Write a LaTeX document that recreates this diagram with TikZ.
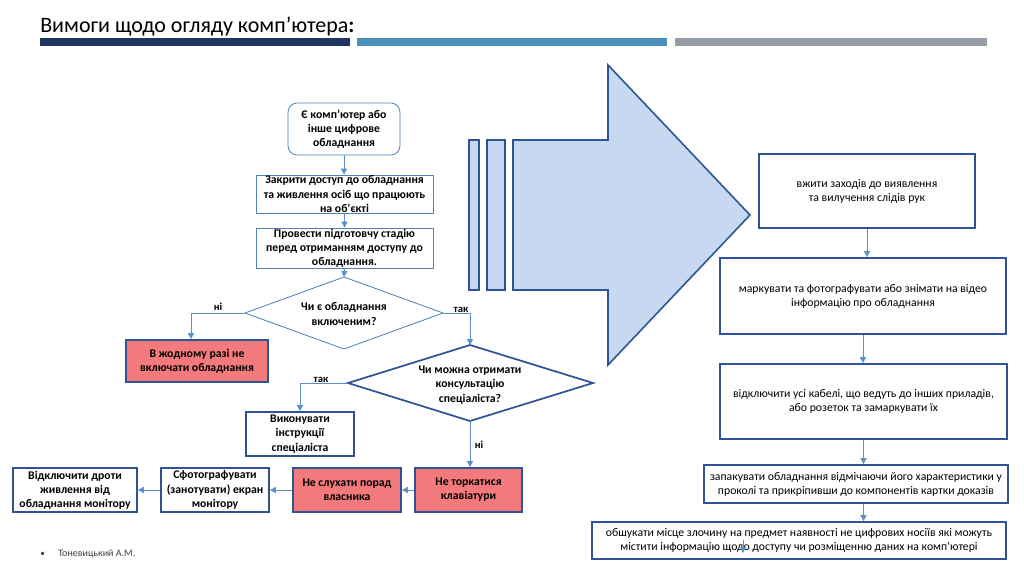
\documentclass[tikz,border=0pt]{standalone}
\usepackage{fontspec}
\setmainfont{Carlito}
\usetikzlibrary{arrows.meta,calc}
\definecolor{navybar}{RGB}{31,52,96}
\definecolor{steelbar}{RGB}{74,144,186}
\definecolor{graybar}{RGB}{149,158,166}
\definecolor{thinblue}{RGB}{79,129,189}
\definecolor{darkblue}{RGB}{47,84,150}
\definecolor{connblue}{RGB}{91,143,209}
\definecolor{redfill}{RGB}{242,122,125}
\definecolor{arrowfill}{RGB}{198,217,240}
\definecolor{footgray}{RGB}{64,64,64}
\tikzset{
  sz/.style 2 args={minimum width=#1*0.75pt, minimum height=#2*0.75pt},
  thinbox/.style={draw=thinblue, line width=0.6pt, fill=white, align=center, inner sep=0pt,
    font=\bfseries\fontsize{8.8}{10.6}\selectfont},
  thickbox/.style={draw=darkblue, line width=1.3pt, fill=white, align=center, inner sep=0pt,
    font=\bfseries\fontsize{8.8}{10.6}\selectfont},
  redbox/.style={thickbox, fill=redfill},
  rbox/.style={draw=darkblue, line width=1.3pt, fill=white, align=center, inner sep=0pt,
    font=\fontsize{8.8}{10.6}\selectfont},
  dtext/.style={align=center, inner sep=0pt, font=\bfseries\fontsize{8.8}{10.8}\selectfont},
  conn/.style={draw=connblue, line width=0.7pt, -{Triangle[length=4.5pt,width=4.5pt]}},
  lbl/.style={font=\bfseries\fontsize{8}{9}\selectfont, inner sep=1pt},
  bigarrow/.style={draw=darkblue, line width=1.2pt, fill=arrowfill, line join=miter}
}
\begin{document}
\begin{tikzpicture}[x=0.75pt,y=-0.75pt]
\useasboundingbox (0,0) rectangle (1024,576);
% title and bars
\node[anchor=base west, inner sep=0pt, font=\fontsize{16.5}{20}\selectfont] (title) at (40,32) {Вимоги щодо огляду комп’ютера\textbf{:}};
\fill[navybar] (40,38) rectangle (350,46);
\fill[steelbar] (357,38) rectangle (667,46);
\fill[graybar] (675,38) rectangle (987,46);

% big arrow and bars
\draw[bigarrow] (469,140) rectangle (479,290);
\draw[bigarrow] (487,140) rectangle (505,290);
\draw[bigarrow] (513,140) -- (608,140) -- (608,65) -- (750,215) -- (608,365) -- (608,290) -- (513,290) -- cycle;

% left flowchart
\node[thinbox, rounded corners=7pt, sz={112}{52}] (n1) at (344,129) {Є комп’ютер або\\інше цифрове\\обладнання};
\node[thinbox, sz={177}{38}] (n2) at (344.5,194) {Закрити доступ до обладнання\\та живлення осіб що працюють\\на об’єкті};
\node[thinbox, sz={177}{40}] (n3) at (344.5,248) {Провести підготовчу стадію\\перед отриманням доступу до\\обладнання.};

\coordinate (d1w) at (245,313);
\coordinate (d1e) at (443,313);
\coordinate (d1n) at (344,277);
\coordinate (d1s) at (344,349);
\draw[draw=thinblue, line width=0.6pt, fill=white] (d1w) -- (d1n) -- (d1e) -- (d1s) -- cycle;
\node[dtext] (d1) at (344,314) {Чи є обладнання\\включеним?};

\coordinate (d2w) at (348,383);
\coordinate (d2e) at (593,383);
\coordinate (d2n) at (470,345);
\coordinate (d2s) at (470,421);
\draw[draw=darkblue, line width=1.3pt, fill=white, line join=miter] (d2w) -- (d2n) -- (d2e) -- (d2s) -- cycle;
\node[dtext] (d2) at (470,385) {Чи можна отримати\\консультацію\\спеціаліста?};

\node[redbox, sz={142}{42}] (r1) at (197,361) {В жодному разі не\\включати обладнання};
\node[thickbox, sz={108}{44}] (vyk) at (300,434) {Виконувати\\інструкції\\спеціаліста};
\node[redbox, sz={107}{44}] (r2) at (468.5,490) {Не торкатися\\клавіатури};
\node[redbox, sz={108}{44}] (r3) at (347,490) {Не слухати порад\\власника};
\node[thickbox, sz={108}{44}] (ph) at (215,490) {Сфотографувати\\(занотувати) екран\\монітору};
\node[thickbox, sz={124}{44}] (dr) at (75,490) {Відключити дроти\\живлення від\\обладнання монітору};

\draw[conn] (n1.south) -- (n1.south |- n2.north);
\draw[conn] (n2.south) -- (n2.south |- n3.north);
\draw[conn] (n3.south) -- (d1n);
\draw[conn] (d1w) -| ([xshift=-4.5pt]r1.north);
\draw[conn] (d1e) -| (d2n);
\draw[conn] (d2w) -| (vyk.north);
\draw[conn] (d2s) -- (d2s |- r2.north);
\draw[conn] (r2.west) -- (r3.east);
\draw[conn] (r3.west) -- (ph.east);
\draw[conn] (ph.west) -- (dr.east);

\node[lbl] (l1) at (218,307) {ні};
\node[lbl] (l2) at (461,310) {так};
\node[lbl] (l3) at (321,380) {так};
\node[lbl] (l4) at (479,445) {ні};

% right column
\node[rbox, sz={216}{74}] (R1) at (867,191) {вжити заходів до виявлення\\ та вилучення слідів рук};
\node[rbox, sz={286}{76}] (R2) at (863,296) {маркувати та фотографувати або знімати на відео\\інформацію про обладнання};
\node[rbox, sz={287}{75}] (R3) at (863.5,401.5) {відключити усі кабелі, що ведуть до інших приладів,\\або розеток та замаркувати їх};
\node[rbox, sz={304}{38}] (R4) at (856,484) {запакувати обладнання відмічаючи його характеристики у\\проколі та прикріпивши до компонентів картки доказів};
\node[rbox, sz={414}{37}] (R5) at (799,540.5) {обшукати місце злочину на предмет наявності не цифрових носіїв які можуть\\містити інформацію щодо доступу чи розміщенню даних на комп’ютері};

\draw[conn] (R1.south) -- (R1.south |- R2.north);
\draw[conn] (R2.south) -- (R2.south |- R3.north);
\draw[conn] (R3.south) -- (R3.south |- R4.north);
\coordinate (r4out) at (R3.south |- R4.south);
\draw[conn] (r4out) -- (r4out |- R5.north);
\coordinate (s1) at (743,540);
\coordinate (s2) at (743,553);
\draw[conn] (s1) -- (s2);

% footer
\node[anchor=base west, inner sep=0pt, font=\fontsize{7}{8}\selectfont, text=footgray] (bul) at (40,556) {•};
\node[anchor=base west, inner sep=0pt, font=\fontsize{7.5}{9}\selectfont, text=footgray] (foot) at (58,556) {Тоневицький А.М.};
\end{tikzpicture}
\end{document}
